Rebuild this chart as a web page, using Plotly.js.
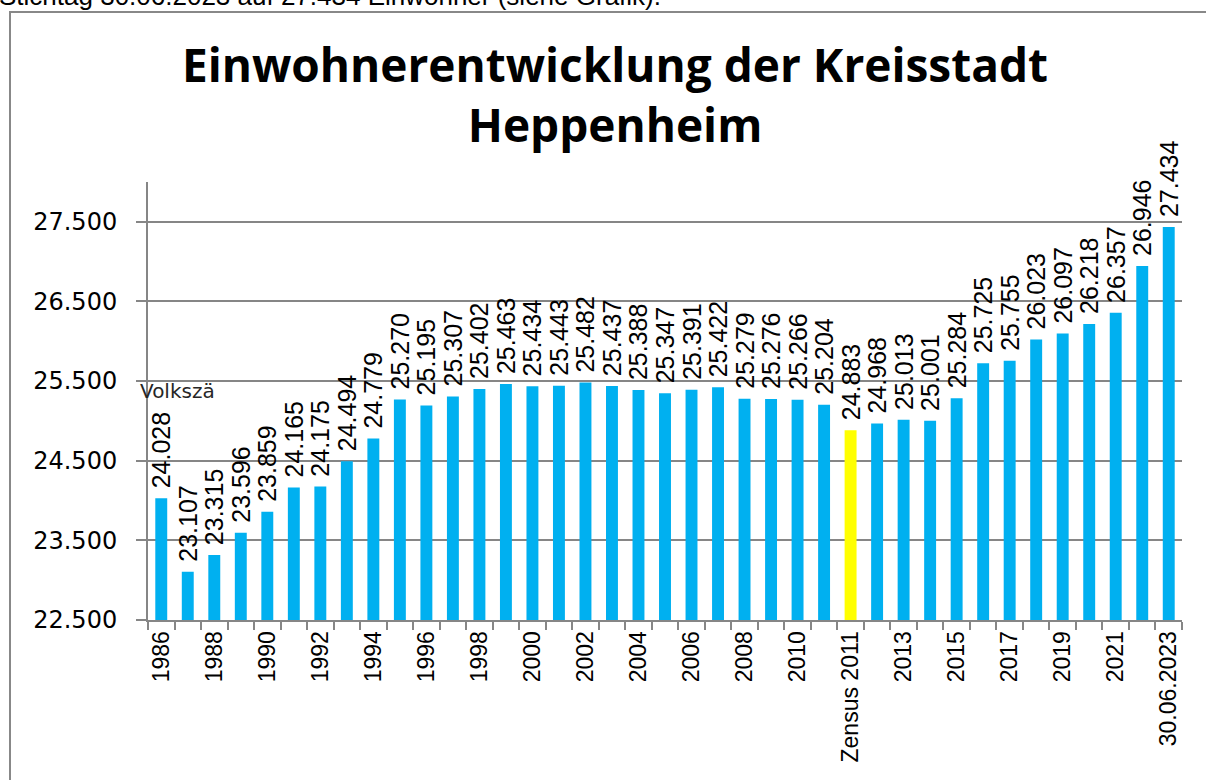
<!DOCTYPE html>
<html>
<head>
<meta charset="utf-8">
<script src="https://cdn.plot.ly/plotly-3.0.1.min.js"></script>
<style>
html,body{margin:0;padding:0;background:#fff;}
#chart{width:1206px;height:780px;}
</style>
</head>
<body>
<div id="chart"></div>
<script>
// ---- data ----
const categories = [
  '1986','1987','1988','1989','1990','1991','1992','1993','1994','1995',
  '1996','1997','1998','1999','2000','2001','2002','2003','2004','2005',
  '2006','2007','2008','2009','2010','2011','Zensus 2011','2012','2013','2014',
  '2015','2016','2017','2018','2019','2020','2021','2022','30.06.2023'
];
const population = [
  24028, 23107, 23315, 23596, 23859, 24165, 24175, 24494, 24779, 25270,
  25195, 25307, 25402, 25463, 25434, 25443, 25482, 25437, 25388, 25347,
  25391, 25422, 25279, 25276, 25266, 25204, 24883, 24968, 25013, 25001,
  25284, 25725, 25755, 26023, 26097, 26218, 26357, 26946, 27434
];
const tickLabels = [
  '1986','','1988','','1990','','1992','','1994','',
  '1996','','1998','','2000','','2002','','2004','',
  '2006','','2008','','2010','','Zensus 2011','','2013','',
  '2015','','2017','','2019','','2021','','30.06.2023'
];
const highlightCategory = 'Zensus 2011';
const titleText = 'Einwohnerentwicklung der Kreisstadt<br>Heppenheim';
const headerText = 'Stichtag 30.06.2023 auf 27.434 Einwohner (siehe Grafik).';
const noteText = 'Volkszä';

// ---- helpers ----
const fmt = v => String(v).replace(/\B(?=(\d{3})+(?!\d))/g, '.');
const barColors = categories.map(c => c === highlightCategory ? '#FFFF00' : '#00B0F0');
const barText = population.map(v => '\u00A0' + fmt(v));

// pixel -> paper helpers (plot area: x 148..1182, y 182..620)
const L = 148, R = 1182, T = 182, B = 620;
const px = x => (x - L) / (R - L);
const py = y => (B - y) / (B - T);

const trace = {
  type: 'bar',
  x: categories,
  y: population,
  marker: { color: barColors, line: { width: 0 } },
  text: barText,
  textposition: 'outside',
  textangle: -90,
  constraintext: 'none',
  cliponaxis: false,
  textfont: { family: 'Liberation Sans, Arial, sans-serif', size: 25, color: '#000' },
  hoverinfo: 'x+y'
};

const gridCol = '#868686';

const layout = {
  width: 1206,
  height: 780,
  margin: { l: L, r: 1206 - R, t: T, b: 780 - B, pad: 0 },
  paper_bgcolor: '#fff',
  plot_bgcolor: '#fff',
  separators: ',.',
  showlegend: false,
  bargap: 0.55,
  font: { family: 'Liberation Sans, Arial, sans-serif', color: '#000' },
  title: {
    text: titleText,
    font: { family: 'Open Sans, sans-serif', size: 46, color: '#000', weight: 'bold' },
    xref: 'container', x: 615 / 1206, xanchor: 'center',
    yref: 'container', y: 1 - 82 / 780, yanchor: 'top'
  },
  xaxis: {
    type: 'category',
    range: [-0.5, categories.length - 0.5],
    tickmode: 'array',
    tickvals: categories,
    ticktext: tickLabels,
    tickangle: -90,
    tickson: 'boundaries',
    ticks: 'outside', ticklen: 8, tickwidth: 2, tickcolor: gridCol,
    showline: true, linecolor: gridCol, linewidth: 2,
    showgrid: false, zeroline: false,
    tickfont: { family: 'Liberation Sans, Arial, sans-serif', size: 23, color: '#000' },
    fixedrange: true
  },
  yaxis: {
    range: [22500, 28000],
    tickmode: 'linear', tick0: 22500, dtick: 1000,
    tickformat: ',d',
    showgrid: true, gridcolor: gridCol, gridwidth: 2,
    ticks: 'outside', ticklen: 10, tickwidth: 2, tickcolor: gridCol,
    showline: true, linecolor: gridCol, linewidth: 2,
    zeroline: false,
    ticklabelstandoff: 14,
    tickfont: { family: 'DejaVu Sans, sans-serif', size: 24, color: '#000' },
    fixedrange: true
  },
  shapes: [
    {
      type: 'rect', xref: 'paper', yref: 'paper',
      x0: px(10), x1: px(1230), y0: py(800), y1: py(12),
      line: { color: '#888888', width: 2 },
      fillcolor: 'rgba(0,0,0,0)', layer: 'below'
    }
  ],
  annotations: [
    {
      text: headerText, showarrow: false,
      xref: 'paper', yref: 'paper', x: px(-3), y: py(-4),
      xanchor: 'left', yanchor: 'middle',
      font: { family: 'Liberation Sans, Arial, sans-serif', size: 26, color: '#000' }
    },
    {
      text: noteText, showarrow: false,
      xref: 'paper', yref: 'paper', x: px(138), y: py(391),
      xanchor: 'left', yanchor: 'middle',
      font: { family: 'DejaVu Sans, sans-serif', size: 20, color: '#262626' }
    }
  ]
};

Plotly.newPlot('chart', [trace], layout, { displayModeBar: false, staticPlot: true });
</script>
</body>
</html>
